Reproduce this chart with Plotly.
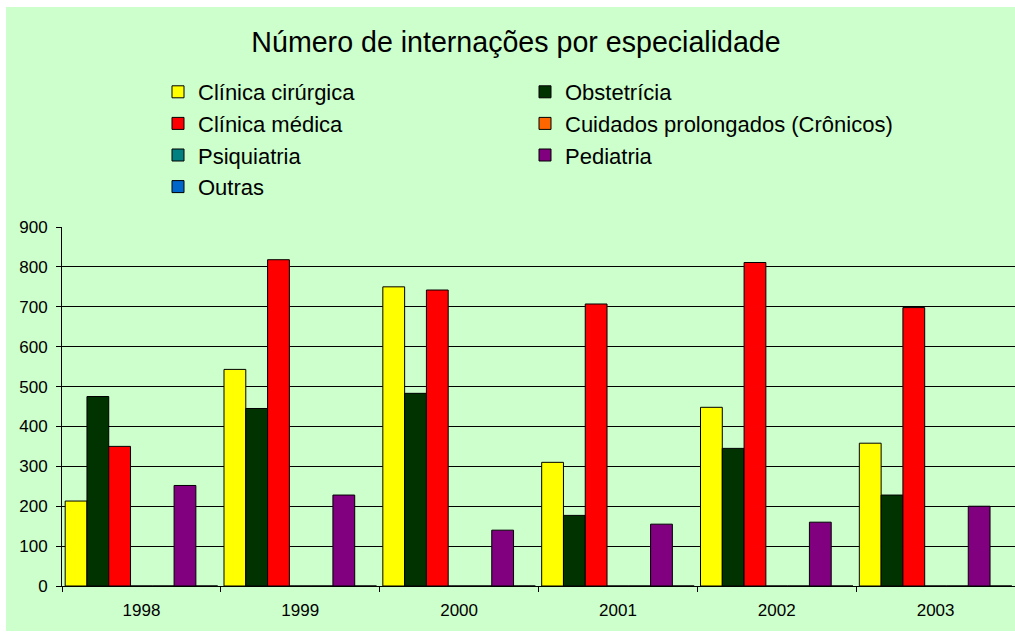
import plotly.graph_objects as go

# anos e internações por especialidade
anos = ['1998', '1999', '2000', '2001', '2002', '2003']
clinica_cirurgica = [213, 543, 750, 310, 448, 358]
obstetricia = [475, 445, 483, 177, 345, 228]
clinica_medica = [350, 818, 742, 707, 811, 698]
cuidados_prolongados = [0, 0, 0, 0, 0, 0]
psiquiatria = [0, 0, 0, 0, 0, 0]
pediatria = [252, 228, 140, 155, 160, 200]
outras = [0, 0, 0, 0, 0, 0]

series = [
    ('Clínica cirúrgica', clinica_cirurgica, '#FFFF00'),
    ('Obstetrícia', obstetricia, '#003300'),
    ('Clínica médica', clinica_medica, '#FF0000'),
    ('Cuidados prolongados (Crônicos)', cuidados_prolongados, '#FF6600'),
    ('Psiquiatria', psiquiatria, '#008080'),
    ('Pediatria', pediatria, '#800080'),
    ('Outras', outras, '#0066CC'),
]

verde = '#CCFFCC'
fonte = 'Liberation Sans, Arial, sans-serif'

fig = go.Figure()
for nome, valores, cor in series:
    fig.add_trace(go.Bar(
        x=anos, y=valores, name=nome,
        marker=dict(color=cor, line=dict(color='black', width=1)),
    ))

W, H = 1015, 632
L, T, B = 62, 227, 46
pw, ph = W - L, H - T - B

# fundo verde, com faixa branca em cima e à esquerda
fig.add_shape(type='rect', xref='paper', yref='paper',
              x0=(6 - L) / pw, x1=1.01, y0=-(B - 1) / ph, y1=(H - B - 7) / ph,
              fillcolor=verde, line_width=0, layer='below')

fig.update_layout(
    width=W, height=H,
    margin=dict(l=L, r=0, t=T, b=B),
    paper_bgcolor='white',
    plot_bgcolor=verde,
    font=dict(family=fonte, color='black', size=17),
    barmode='group', bargap=0.04, bargroupgap=0,
    title=dict(text='Número de internações por especialidade',
               x=516 / W, xanchor='center', xref='container',
               y=1 - 42 / H, yanchor='middle', yref='container',
               font=dict(size=28.6, family=fonte, color='black')),
    legend=dict(orientation='h', xref='container', yref='container',
                x=158 / W, xanchor='left', y=1 - 71 / H, yanchor='top',
                entrywidth=322, entrywidthmode='pixels',
                bgcolor='rgba(0,0,0,0)', font=dict(size=22, family=fonte),
                traceorder='normal'),
    showlegend=True,
)

fig.update_xaxes(showline=True, linecolor='black', linewidth=1,
                 ticks='outside', tickson='boundaries', ticklen=5, tickcolor='black',
                 ticklabelstandoff=9, tickfont=dict(size=17), showgrid=False)
fig.update_yaxes(range=[0, 900], dtick=100, showline=True, linecolor='black', linewidth=1,
                 ticks='outside', ticklen=5, tickcolor='black',
                 ticklabelstandoff=5, gridcolor='black', gridwidth=1, zeroline=False,
                 tickfont=dict(size=17))

# sem margem no body, para a figura ocupar a janela inteira
fig.write_html('out.html', config={'displayModeBar': False},
               post_script="document.body.style.margin='0';")
